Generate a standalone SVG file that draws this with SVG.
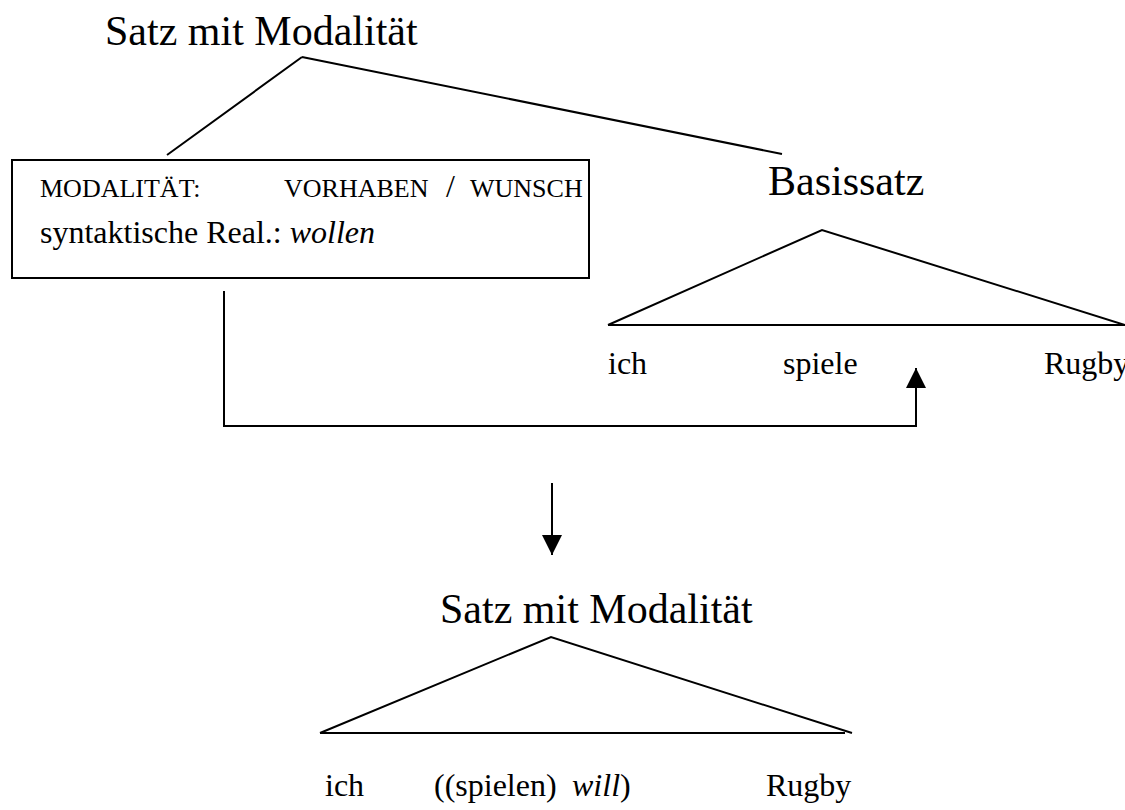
<svg xmlns="http://www.w3.org/2000/svg" width="1125" height="810" viewBox="0 0 1125 810">
  <style>
    text { font-family: "Liberation Serif", "Times New Roman", serif; fill: #000; }
    .title { font-size: 42px; }
    .sc { font-size: 26px; }
    .slash { font-size: 32px; }
    .body { font-size: 32px; }
    .word { font-size: 32px; }
    .it { font-style: italic; }
    .ln { fill: none; stroke: #000; stroke-width: 2; }
  </style>
  <defs>
    <marker id="head" viewBox="0 0 20 20" refX="20" refY="10" markerWidth="20" markerHeight="20" markerUnits="userSpaceOnUse" orient="auto">
      <path d="M0,0 L20,10 L0,20 Z" fill="#000"/>
    </marker>
  </defs>
  <rect width="1125" height="810" fill="#fff"/>

  <!-- root node -->
  <g id="root">
    <text class="title" x="105" y="45">Satz mit Modalität</text>
  </g>

  <!-- modality feature box -->
  <g id="modality">
    <rect x="12" y="160" width="577" height="118" fill="none" stroke="#000" stroke-width="2"/>
    <text class="sc" x="40" y="197">MODALITÄT:</text>
    <text class="sc" x="284" y="197">VORHABEN</text>
    <text class="slash" x="446" y="197">/</text>
    <text class="sc" x="470" y="197">WUNSCH</text>
    <text class="body" x="40" y="243">syntaktische Real.: <tspan class="it">wollen</tspan></text>
  </g>

  <!-- base clause -->
  <g id="basissatz">
    <text class="title" x="768" y="195">Basissatz</text>
    <path class="ln" d="M608,325 L822,230 L1125,325 M608,325 L1125,325"/>
    <text class="word" x="608" y="374">ich</text>
    <text class="word" x="783" y="374">spiele</text>
    <text class="word" x="1044" y="374">Rugby</text>
  </g>

  <!-- resulting clause -->
  <g id="result">
    <text class="title" x="440" y="623">Satz mit Modalität</text>
    <path class="ln" d="M320,733 L551,637 L852,733 M320,733 L845,733"/>
    <text class="word" x="325" y="796">ich</text>
    <text class="word" x="434" y="796">((spielen)</text>
    <text class="word" x="572" y="796"><tspan class="it">will</tspan>)</text>
    <text class="word" x="766" y="796">Rugby</text>
  </g>

  <!-- connectors -->
  <g id="connectors">
    <path class="ln" d="M302,57 L167,155 M302,57 L782,154"/>
    <path class="ln" d="M224,291 L224,426 L916,426 L916,368" marker-end="url(#head)"/>
    <path class="ln" d="M552,483 L552,555" marker-end="url(#head)"/>
  </g>
</svg>
